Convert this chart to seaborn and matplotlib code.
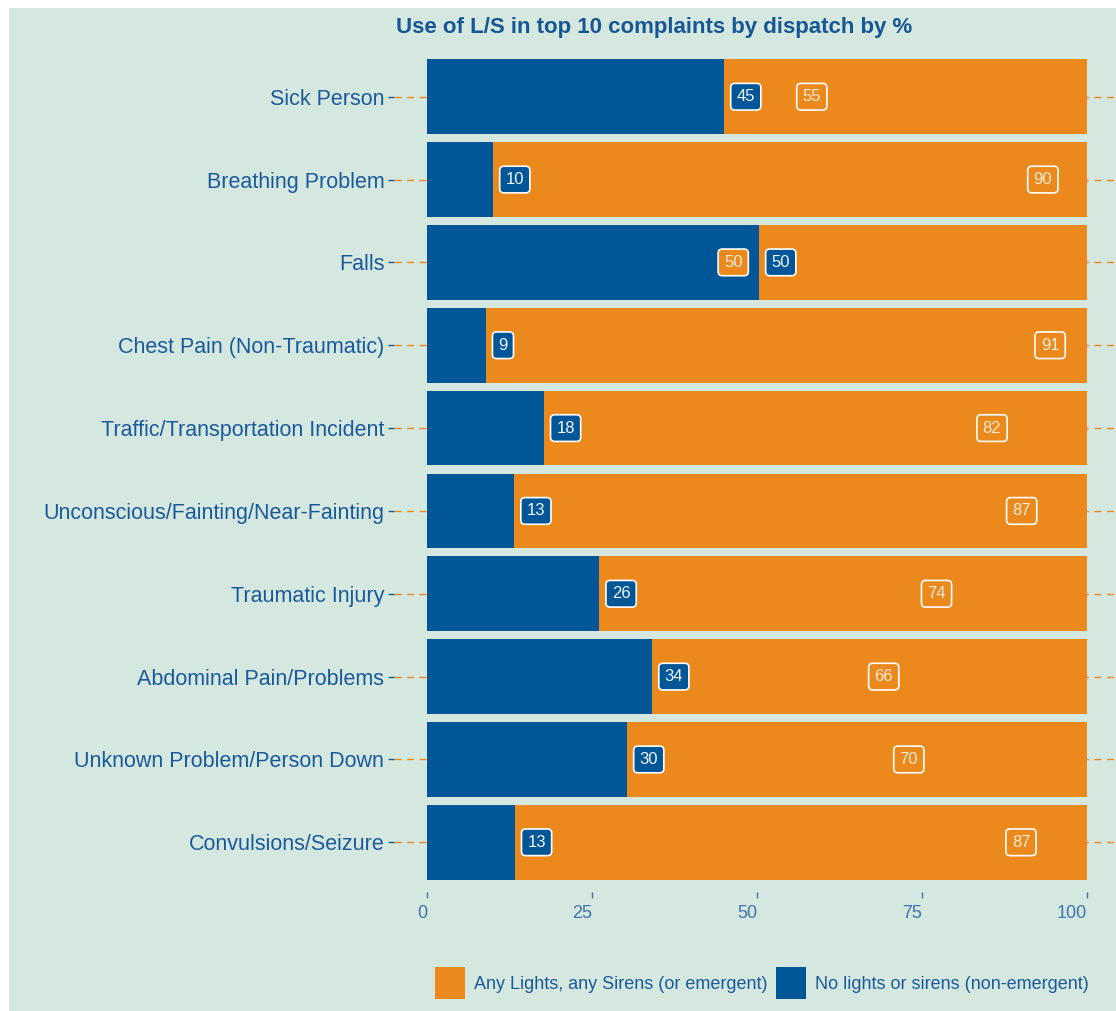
import pandas as pd
import numpy as np
import matplotlib
matplotlib.use("Agg")
import matplotlib.pyplot as plt
import matplotlib.patches as mpatches
import seaborn as sns

# data
complaints = [
    "Sick Person",
    "Breathing Problem",
    "Falls",
    "Chest Pain (Non-Traumatic)",
    "Traffic/Transportation Incident",
    "Unconscious/Fainting/Near-Fainting",
    "Traumatic Injury",
    "Abdominal Pain/Problems",
    "Unknown Problem/Person Down",
    "Convulsions/Seizure",
]
no_ls_pct = [45.0, 10.0, 50.3, 8.9, 17.7, 13.2, 26.1, 34.1, 30.3, 13.3]
any_ls_pct = [55.0, 90.0, 49.7, 91.1, 82.3, 86.8, 73.9, 65.9, 69.7, 86.7]
x_ticks = [0, 25, 50, 75, 100]
legend_labels = ["Any Lights, any Sirens (or emergent)", "No lights or sirens (non-emergent)"]

BG = "#D5E8DF"
ORANGE = "#EB891D"
BLUE = "#005696"
TXT = "#1A5A9C"
TICK = "#3F74AE"

df = pd.DataFrame({"complaint": complaints, "no_ls": no_ls_pct, "any_ls": any_ls_pct})
df["total"] = df["no_ls"] + df["any_ls"]

sns.set_style("white")
plt.rcParams["font.family"] = ["Liberation Sans", "DejaVu Sans"]

fig = plt.figure(figsize=(11.16, 10.11), dpi=100, facecolor="white")
W, H = 1116, 1011
fig.patches.append(mpatches.Rectangle((9 / W, 0), 1 - 9 / W, 1 - 8 / H,
                                      transform=fig.transFigure, facecolor=BG,
                                      edgecolor="none", zorder=-10))

ax = fig.add_axes([394 / W, 1 - 892 / H, (1120 - 394) / W, (892 - 47) / H])
ax.set_facecolor(BG)

sns.barplot(data=df, y="complaint", x="total", color=ORANGE, orient="h",
            width=0.9, ax=ax, zorder=3, saturation=1, linewidth=0)
sns.barplot(data=df, y="complaint", x="no_ls", color=BLUE, orient="h",
            width=0.9, ax=ax, zorder=4, saturation=1, linewidth=0)

ax.set_xlim(-5, 105)
ax.set_ylim(len(complaints) - 1 + 0.6, -0.6)

# value labels (ggplot-style boxed labels)
off = 1.9
for i, (b, o) in enumerate(zip(df["no_ls"], df["any_ls"])):
    box = dict(boxstyle="round,pad=0.35,rounding_size=0.25", fc=BLUE, ec="white", lw=1.2)
    ax.text(b + off, i, f"{round(b)}", ha="left", va="center", fontsize=12,
            color="#F2F6F8", bbox=box, zorder=6)
    box = dict(boxstyle="round,pad=0.35,rounding_size=0.25", fc=ORANGE, ec="white", lw=1.2)
    if abs(o - b) < 8:
        ax.text(o - off, i, f"{round(o)}", ha="right", va="center", fontsize=12,
                color="#FBEBD8", bbox=box, zorder=6)
    else:
        ax.text(o + off, i, f"{round(o)}", ha="left", va="center", fontsize=12,
                color="#FBEBD8", bbox=box, zorder=6)

ax.grid(axis="y", color=ORANGE, linestyle=(0, (5, 4)), linewidth=1, zorder=1)
ax.grid(axis="x", visible=False)
for s in ax.spines.values():
    s.set_visible(False)

ax.set_xticks(x_ticks)
ax.set_xticklabels([str(t) for t in x_ticks], fontsize=13, color=TICK, ha="right")
ax.tick_params(axis="x", length=4, width=1, color=TICK, pad=5, bottom=True)
ax.tick_params(axis="y", length=4, width=1, color=TXT, labelsize=15.5,
               labelcolor=TXT, pad=3, left=True)
ax.set_xlabel("")
ax.set_ylabel("")

fig.text(654 / W, 1 - 27 / H, "Use of L/S in top 10 complaints by dispatch by %",
         ha="center", va="center", fontsize=16, fontweight="bold", color="#165694")

handles = [mpatches.Patch(facecolor=ORANGE, edgecolor="none"),
           mpatches.Patch(facecolor=BLUE, edgecolor="none")]
fig.legend(handles, legend_labels, loc="center", bbox_to_anchor=(762 / W, 1 - 983 / H),
           ncol=2, frameon=False, fontsize=13, labelcolor=TXT,
           handlelength=1.65, handleheight=2.3, handletextpad=0.5, columnspacing=0.5)

fig.savefig("out.png", dpi=100, facecolor="white")
